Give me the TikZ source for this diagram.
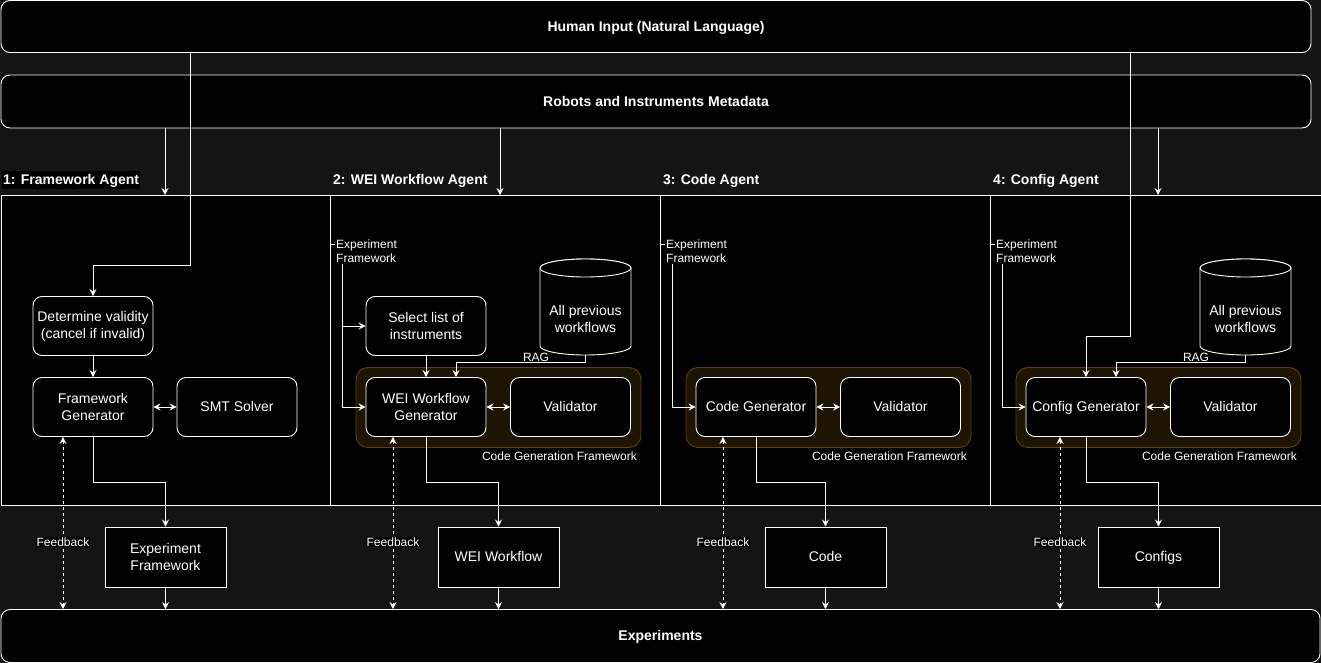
\documentclass[tikz,border=0pt]{standalone}
\usepackage{fontspec}
\setmainfont{Liberation Sans}
\usetikzlibrary{arrows.meta,calc}
\definecolor{bgc}{HTML}{141414}
\definecolor{cgfill}{HTML}{1E1404}
\definecolor{cgdraw}{HTML}{5E4212}
\begin{document}
\begin{tikzpicture}[x=1pt,y=-1pt,
  every node/.style={text=white},
  nfont/.style={font=\fontsize{14}{17}\selectfont},
  sfont/.style={font=\fontsize{12}{14.5}\selectfont},
  oneline/.style={text height=12.7pt, text depth=3pt},
  rbox/.style={draw=white, fill=black, rounded corners=9pt, line width=0.9pt, minimum width=120pt, minimum height=59pt, inner sep=2pt, align=center, nfont},
  sqbox/.style={draw=white, fill=black, line width=0.9pt, minimum width=121pt, minimum height=60pt, inner sep=2pt, align=center, nfont},
  widebox/.style={draw=white, fill=black, rounded corners=9pt, line width=0.9pt, inner sep=0pt, align=center, font=\fontsize{14}{17}\selectfont\bfseries, oneline},
  cgframe/.style={draw=cgdraw, fill=cgfill, rounded corners=12pt, line width=0.9pt, minimum width=285pt, minimum height=80pt, inner sep=0pt},
  lanelabel/.style={anchor=west, font=\fontsize{14}{17}\selectfont\bfseries, inner sep=1pt, oneline},
  smalllabel/.style={sfont, fill=black, inner sep=1pt},
  cyl/.style={draw=white, fill=black, line width=0.9pt},
  conn/.style={draw=white, line width=0.9pt},
  arr/.style={conn, -{Stealth[length=7pt,width=7pt,inset=2.5pt]}},
  darr/.style={conn, {Stealth[length=7pt,width=7pt,inset=2.5pt]}-{Stealth[length=7pt,width=7pt,inset=2.5pt]}},
  fb/.style={darr, dash pattern=on 3pt off 3pt},
]
\useasboundingbox (0,0) rectangle (1321,663);
\fill[bgc] (0,0) rectangle (1321,663);

% top and bottom bars
\node[widebox, minimum width=1310pt, minimum height=52pt] (human) at (656,26.5) {Human Input (Natural Language)};
\node[widebox, minimum width=1310pt, minimum height=53pt] (meta) at (656,101.5) {Robots and Instruments Metadata};
\node[widebox, minimum width=1319pt, minimum height=53pt] (exps) at (660.5,636) {Experiments};

% lanes
\node[draw=white, fill=black, line width=0.9pt, minimum width=1322pt, minimum height=310pt, inner sep=0pt, anchor=north west] (lanes) at (0.5,195) {};
\foreach \x in {330,660,990} \draw[conn] (\x,195) -- (\x,505);

\node[lanelabel, fill=black] (l1) at (2,180) {1: Framework Agent};
\node[lanelabel] (l2) at (332,180) {2: WEI Workflow Agent};
\node[lanelabel] (l3) at (662,180) {3: Code Agent};
\node[lanelabel] (l4) at (992,180) {4: Config Agent};

% code generation frameworks
\node[cgframe] (cg2) at (498.5,407.5) {};
\node[cgframe] (cg3) at (828.5,407.5) {};
\node[cgframe] (cg4) at (1158.5,407.5) {};
\node[sfont, anchor=east, inner sep=1pt] (cgl2) at (638,456) {Code Generation Framework};
\node[sfont, anchor=east, inner sep=1pt] (cgl3) at (968,456) {Code Generation Framework};
\node[sfont, anchor=east, inner sep=1pt] (cgl4) at (1298,456) {Code Generation Framework};

% cylinders
\path[cyl] (540,268) -- (540,346) arc[start angle=180, end angle=0, x radius=45.5, y radius=9] -- (631,268) arc[start angle=0, end angle=-180, x radius=45.5, y radius=9] -- cycle;
\draw[cyl] (585.5,268) ellipse[x radius=45.5, y radius=9];
\node[minimum width=91pt, minimum height=96pt, inner sep=0pt] (cyl2) at (585.5,307) {};
\node[nfont, align=center] (cyl2t) at (585.5,318.5) {All previous\\workflows};

\path[cyl] (1200,268) -- (1200,346) arc[start angle=180, end angle=0, x radius=45.5, y radius=9] -- (1291,268) arc[start angle=0, end angle=-180, x radius=45.5, y radius=9] -- cycle;
\draw[cyl] (1245.5,268) ellipse[x radius=45.5, y radius=9];
\node[minimum width=91pt, minimum height=96pt, inner sep=0pt] (cyl4) at (1245.5,307) {};
\node[nfont, align=center] (cyl4t) at (1245.5,318.5) {All previous\\workflows};

% lane 1 boxes
\node[rbox] (valid) at (93,326) {Determine validity\\(cancel if invalid)};
\node[rbox] (fgen) at (93,407) {Framework\\Generator};
\node[rbox, oneline] (smt) at (237,407) {SMT Solver};
\node[sqbox] (expf) at (165.5,557) {Experiment\\Framework};

% lane 2 boxes
\node[rbox] (sel) at (426,326) {Select list of\\instruments};
\node[rbox] (wgen) at (426,407) {WEI Workflow\\Generator};
\node[rbox, oneline] (wval) at (570.5,407) {Validator};
\node[sqbox, oneline] (wei) at (498.5,557) {WEI Workflow};

% lane 3 boxes
\node[rbox, oneline] (cgen) at (756,407) {Code Generator};
\node[rbox, oneline] (cval) at (900.5,407) {Validator};
\node[sqbox, oneline] (code) at (825.5,557) {Code};

% lane 4 boxes
\node[rbox, oneline] (kgen) at (1086,407) {Config Generator};
\node[rbox, oneline] (kval) at (1230.5,407) {Validator};
\node[sqbox, oneline] (configs) at (1158.5,557) {Configs};

% helper coordinates
\coordinate (h1) at (190,265);
\coordinate (h4) at (1130.5,336);
\coordinate (m1) at (165,195);
\coordinate (m2) at (500,195);
\coordinate (m4) at (1158,195);
\coordinate (e2) at (330,244); \coordinate (v2) at (342,244);
\coordinate (e3) at (660,244); \coordinate (v3) at (672,244);
\coordinate (e4) at (990,244); \coordinate (v4) at (1002,244);
\coordinate (o1) at (165.5,482);
\coordinate (o2) at (498.5,482);
\coordinate (o3) at (825.5,482);
\coordinate (o4) at (1158.5,482);
\coordinate (f1) at (63,0);
\coordinate (f2) at (393,0);
\coordinate (f3) at (723,0);
\coordinate (f4) at (1060,0);

% human input and metadata
\draw[arr] (human.south -| h1) -- (h1) -| (valid.north);
\draw[arr] (human.south -| h4) -- (h4) -| (kgen.north);
\draw[arr] (meta.south -| m1) -- (m1);
\draw[arr] (meta.south -| m2) -- (m2);
\draw[arr] (meta.south -| m4) -- (m4);

% lane 1
\draw[arr] (valid) -- (fgen);
\draw[darr] (fgen) -- (smt);
\draw[arr] (fgen.south) |- (o1) -- (expf.north);
\draw[arr] (expf.south) -- (expf.south |- exps.north);
\draw[fb] (fgen.south -| f1) -- node[pos=0.61, smalllabel] (fbl1) {Feedback} (f1 |- exps.north);

% lane 2
\draw[arr] (e2) -- (v2) |- (wgen.west);
\draw[arr] (v2 |- sel.west) -- (sel.west);
\node[smalllabel, anchor=west, align=left] (ef2) at (335,251) {Experiment\\Framework};
\draw[arr] (sel) -- (wgen);
\draw[arr] (cyl2.south) -- ++(0,7) -| ([xshift=30pt]wgen.north);
\node[smalllabel] (rag2) at (536,357) {RAG};
\draw[darr] (wgen) -- (wval);
\draw[arr] (wgen.south) |- (o2) -- (wei.north);
\draw[arr] (wei.south) -- (wei.south |- exps.north);
\draw[fb] (wgen.south -| f2) -- node[pos=0.61, smalllabel] (fbl2) {Feedback} (f2 |- exps.north);

% lane 3
\draw[arr] (e3) -- (v3) |- (cgen.west);
\node[smalllabel, anchor=west, align=left] (ef3) at (665,251) {Experiment\\Framework};
\draw[darr] (cgen) -- (cval);
\draw[arr] (cgen.south) |- (o3) -- (code.north);
\draw[arr] (code.south) -- (code.south |- exps.north);
\draw[fb] (cgen.south -| f3) -- node[pos=0.61, smalllabel] (fbl3) {Feedback} (f3 |- exps.north);

% lane 4
\draw[arr] (e4) -- (v4) |- (kgen.west);
\node[smalllabel, anchor=west, align=left] (ef4) at (995,251) {Experiment\\Framework};
\draw[arr] (cyl4.south) -- ++(0,7) -| ([xshift=30pt]kgen.north);
\node[smalllabel] (rag4) at (1196,357) {RAG};
\draw[darr] (kgen) -- (kval);
\draw[arr] (kgen.south) |- (o4) -- (configs.north);
\draw[arr] (configs.south) -- (configs.south |- exps.north);
\draw[fb] (kgen.south -| f4) -- node[pos=0.61, smalllabel] (fbl4) {Feedback} (f4 |- exps.north);
\end{tikzpicture}
\end{document}
